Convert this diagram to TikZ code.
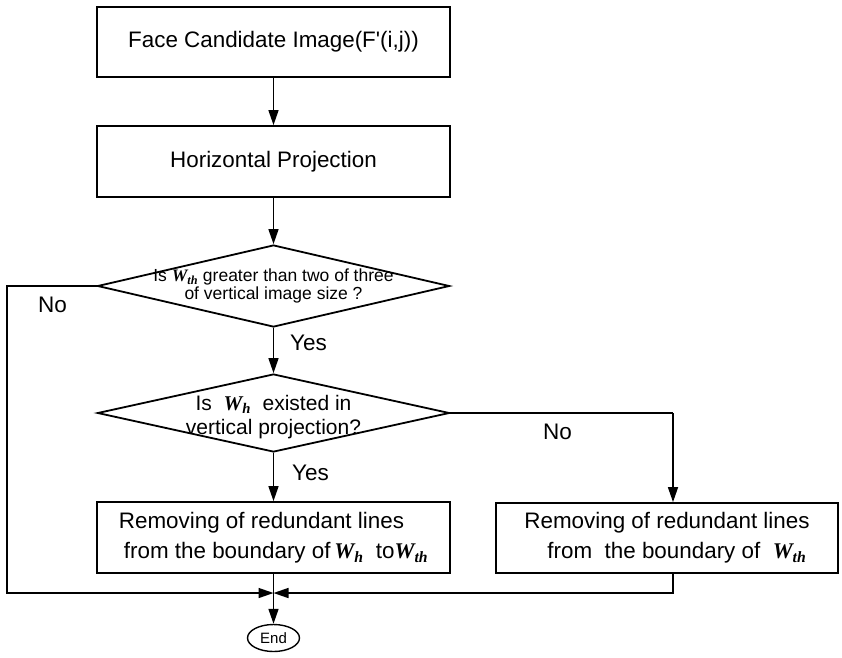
\documentclass[tikz,border=0pt]{standalone}
\usepackage{fontspec}
\setmainfont{Liberation Sans}
\newfontfamily\wfont{Liberation Serif}
\usetikzlibrary{arrows.meta,shapes.geometric,positioning}

% Schwellwert-Symbol W (fett, kursiv)
\newcommand{\Wsym}[1]{{\wfont\bfseries\itshape W\textsubscript{#1}}}

\begin{document}
\begin{tikzpicture}[x=1pt, y=-1pt,
        box/.style={draw, line width=1.8pt, minimum width=353pt, minimum height=71pt,
            inner sep=0pt, align=left, font=\fontsize{22.4}{30}\selectfont},
        decision/.style={draw, diamond, line width=1.8pt, inner sep=0pt, minimum width=352pt},
        ask/.style={align=center, inner sep=0pt},
        flow/.style={line width=1.5pt, -{Triangle[length=15pt,width=10pt]}},
        link/.style={line width=1.5pt},
        lbl/.style={anchor=base west, inner sep=0pt, font=\fontsize{22.5}{24}\selectfont},
        endnode/.style={draw, ellipse, line width=1.4pt, minimum width=52pt, minimum height=27pt,
            inner sep=0pt, font=\fontsize{15}{18}\selectfont}]
    \useasboundingbox (0,0) rectangle (842,657);

    % Kaesten
    \node[box, minimum height=70pt] (face) at (273.5,42) {Face Candidate Image(F\textquotesingle(i,j))};
    \node[box] (hproj) at (273.5,161.5) {Horizontal Projection};

    % Entscheidungen
    \node[decision, minimum height=82pt] (q1) at (273.5,286) {};
    \node[ask, font=\fontsize{17.5}{18}\selectfont] (q1t) at (q1) {Is \Wsym{th} greater than two of three\\of vertical image size ?};
    \node[decision, minimum height=78pt] (q2) at (273.5,413) {};
    \node[ask, font=\fontsize{21}{23.5}\selectfont] (q2t) at ([yshift=-4pt]q2.center) {Is~~\Wsym{h}~~existed in\\vertical projection?};

    % Ergebnisse
    \node[box] (remA) at (273.5,537.5) {Removing of redundant lines\\\hspace{5pt}from the boundary of\,\Wsym{h}~~to\Wsym{th}};
    \node[box, minimum width=342pt, minimum height=70pt] (remB) at (667,538) {Removing of redundant lines\\\hspace{23pt}from~~the boundary of~~\Wsym{th}};
    \node[endnode] (fin) at (273.5,638) {End};

    % Hilfspunkte
    \coordinate (merge) at (273.5,593);
    \coordinate (noL) at (7,286);
    \coordinate (noR) at (673,413);

    % Verbindungen
    \draw[flow] (face) -- (hproj);
    \draw[flow] (hproj) -- (q1);
    \draw[flow] (q1) -- (q2);
    \draw[flow] (q2) -- (remA);
    \draw[flow] (remA) -- (fin);
    \draw[link] (q2.east) -- (noR);
    \draw[flow] (noR) -- (noR |- remB.north);
    \draw[flow] (q1.west) -- (noL) |- (merge);
    \draw[flow] (remB.south -| noR) |- (merge);

    % Beschriftungen
    \node[lbl] (noLt) at (38,312) {No};
    \node[lbl] (yes1) at (290,350) {Yes};
    \node[lbl] (noRt) at (543,439) {No};
    \node[lbl] (yes2) at (292,480) {Yes};
\end{tikzpicture}
\end{document}
